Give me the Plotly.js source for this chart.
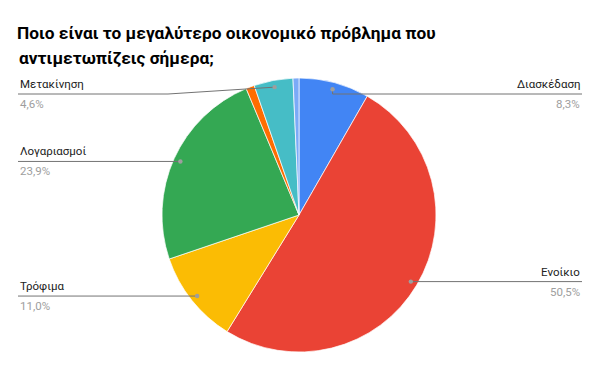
<!DOCTYPE html>
<html>
<head>
<meta charset="utf-8">
<script src="https://cdn.plot.ly/plotly-3.0.1.min.js"></script>
<style>html,body{margin:0;padding:0;background:#fff;}#chart{width:600px;height:371px;}</style>
</head>
<body>
<div id="chart"></div>
<script>
const categories = ['Διασκέδαση', 'Ενοίκιο', 'Τρόφιμα', 'Λογαριασμοί', 'Άλλο', 'Μετακίνηση', 'Άλλο 2'];
const values = [8.3, 50.5, 11.0, 23.9, 1.0, 4.6, 0.7];
const colors = ['#4285F4', '#EA4335', '#FBBC04', '#34A853', '#FF6D01', '#46BDC6', '#7BAAF7'];
const labelled = [true, true, true, true, false, true, false];
const titleLines = ['Ποιο είναι το μεγαλύτερο οικονομικό πρόβλημα που', 'αντιμετωπίζεις σήμερα;'];

const W = 600, H = 371;
const cx = 299, cy = 215, R = 137;
const dotR = 0.95 * R;
const leftX = 18, rightX = 582, minLabelY = 94;

const total = values.reduce((a, b) => a + b, 0);
const px = x => x / W;
const py = y => 1 - y / H;

const shapes = [], annotations = [];
let cum = 0;
values.forEach((v, i) => {
  const mid = (cum + v / 2) / total * 2 * Math.PI;
  cum += v;
  if (!labelled[i]) return;
  const dx = cx + dotR * Math.sin(mid);
  const dy = cy - dotR * Math.cos(mid);
  const right = Math.sin(mid) > 0;
  const ly = Math.max(dy, minLabelY);
  const endX = right ? rightX : leftX;
  const bendX = right ? dx : Math.min(dx, leftX + 150);
  shapes.push({type: 'line', xref: 'paper', yref: 'paper', x0: px(endX), y0: py(ly), x1: px(bendX), y1: py(ly), line: {color: '#737373', width: 1}});
  if (bendX !== dx || ly !== dy) {
    shapes.push({type: 'line', xref: 'paper', yref: 'paper', x0: px(bendX), y0: py(ly), x1: px(dx), y1: py(dy), line: {color: '#737373', width: 1}});
  }
  shapes.push({type: 'circle', xref: 'paper', yref: 'paper', x0: px(dx - 2.2), x1: px(dx + 2.2), y0: py(dy + 2.2), y1: py(dy - 2.2), fillcolor: '#9e9e9e', line: {width: 0}});
  annotations.push({xref: 'paper', yref: 'paper', x: px(endX), y: py(ly - 1), xanchor: right ? 'right' : 'left', yanchor: 'bottom', showarrow: false, text: categories[i], font: {family: 'Roboto, Arial, sans-serif', size: 11.5, color: '#222222'}});
  annotations.push({xref: 'paper', yref: 'paper', x: px(endX), y: py(ly + 1), xanchor: right ? 'right' : 'left', yanchor: 'top', showarrow: false, text: v.toFixed(1).replace('.', ',') + '%', font: {family: 'Roboto, Arial, sans-serif', size: 11.5, color: '#9e9e9e'}});
});

// second title line as annotation for exact line spacing
annotations.push({xref: 'paper', yref: 'paper', x: px(17), y: py(58), xanchor: 'left', yanchor: 'middle', showarrow: false, text: '<b>' + titleLines[1] + '</b>', font: {family: 'Roboto, Arial, sans-serif', size: 17.3, color: '#000000'}});

const trace = {
  type: 'pie',
  labels: categories,
  values: values,
  sort: false,
  direction: 'clockwise',
  rotation: 0,
  textinfo: 'none',
  hoverinfo: 'label+percent',
  marker: {colors: colors, line: {color: '#ffffff', width: 0.7}},
  domain: {x: [px(cx - R), px(cx + R)], y: [py(cy + R), py(cy - R)]},
  showlegend: false
};

const layout = {
  width: W, height: H,
  margin: {l: 0, r: 0, t: 0, b: 0},
  paper_bgcolor: '#ffffff',
  showlegend: false,
  title: {
    text: '<b>' + titleLines[0] + '</b>',
    x: px(17), xanchor: 'left', xref: 'paper',
    y: py(33), yanchor: 'middle', yref: 'paper',
    font: {family: 'Roboto, Arial, sans-serif', size: 17.3, color: '#000000'}
  },
  shapes: shapes,
  annotations: annotations
};

Plotly.newPlot('chart', [trace], layout, {displayModeBar: false, staticPlot: true});
</script>
</body>
</html>
